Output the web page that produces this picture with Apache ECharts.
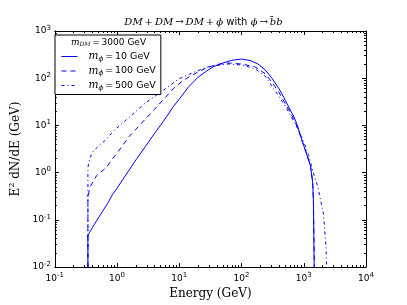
<!DOCTYPE html>
<html><head><meta charset="utf-8">
<script src="https://cdn.jsdelivr.net/npm/echarts@6/dist/echarts.min.js"></script>
<style>html,body{margin:0;padding:0;background:#fff}#c{width:407px;height:305px}</style>
</head><body><div id="c"></div>
<script>
// ---- data ----
const xMajorTicks = [0.1, 1, 10, 100, 1000, 10000];
const yMajorTicks = [0.01, 0.1, 1, 10, 100, 1000];

const e10 = [0.34,0.34,0.4,0.5,0.7,0.84,1,1.5,2,2.86,4,5.5,8,10,14,20,27,35,50,70,100,140,184,240,300,400,484,620,700,800,950,1100,1280,1390,1430,1470];
const v10 = [0.01,0.047,0.068,0.11,0.22,0.34,0.47,1.05,1.85,3.6,6.8,12,25,36,65,105,140,175,210,240,255,235,200,150,105,60,38,20,15,9.5,4.5,2.6,1.4,0.63,0.25,0.01];

const e100 = [0.34,0.34,0.367,0.47,0.67,0.85,1,1.56,2.86,4,5.5,8,11,14.6,20,27,40,60,100,163,240,300,400,484,620,800,950,1100,1280,1390,1430,1480];
const v100 = [0.01,0.3,0.5,0.87,1.28,2.0,2.6,5.8,13.7,22,35,60,85,108,135,165,195,210,200,175,125,86,50,32,18,9,4.5,2.6,1.4,0.63,0.25,0.01];

const e500 = [0.34,0.34,0.367,0.413,0.53,0.67,0.85,1.56,2.86,5.2,9.6,14.6,26.7,49,62,100,163,240,300,484,620,800,1000,1200,1420,1650,1840,2080,2280,2330];
const v500 = [0.01,1.3,2.07,2.83,3.9,5.0,7.3,14.9,30,52,95,122,170,195,200,190,160,110,72,28,16,8.5,4.5,2.3,1.0,0.55,0.29,0.13,0.027,0.01];

const seriesNames = ['m10', 'm100', 'm500'];
const legendMasses = ['10', '100', '500'];

// ---- helpers ----
function minorTicks(lo, hi) {
  const out = [];
  for (let k = lo; k < hi; k++) for (let m = 2; m <= 9; m++) out.push(m * Math.pow(10, k));
  return out;
}
function pairs(xs, ys) { return xs.map((x, i) => [x, ys[i]]); }
function expLabel(v) {
  const p = Math.round(Math.log10(v));
  return '{b|10}{s|' + p + '}';
}
const labelRich = {
  b: { fontFamily: 'DejaVu Sans', fontSize: 9, color: '#000' },
  s: { fontFamily: 'DejaVu Sans', fontSize: 7, color: '#000', padding: [0, 0, 6, 0] }
};
const xMinor = minorTicks(-1, 4);
const yMinor = minorTicks(-2, 3);

function xAx(pos, ticks, len, showLabel, showLine, extra) {
  return Object.assign({
    type: 'log', logBase: 10, min: 0.1, max: 10000, position: pos, gridIndex: 0,
    axisLine: { show: showLine, lineStyle: { color: '#000', width: 1 } },
    axisTick: { show: true, inside: true, length: len, customValues: ticks, lineStyle: { color: '#000', width: 1 } },
    axisLabel: showLabel ? { show: true, customValues: xMajorTicks, formatter: expLabel, rich: labelRich, margin: 5 } : { show: false },
    splitLine: { show: false }, minorTick: { show: false }
  }, extra || {});
}
function yAx(pos, ticks, len, showLabel, showLine, extra) {
  return Object.assign({
    type: 'log', logBase: 10, min: 0.01, max: 1000, position: pos, gridIndex: 0,
    axisLine: { show: showLine, lineStyle: { color: '#000', width: 1 } },
    axisTick: { show: true, inside: true, length: len, customValues: ticks, lineStyle: { color: '#000', width: 1 } },
    axisLabel: showLabel ? { show: true, customValues: yMajorTicks, formatter: expLabel, rich: labelRich, margin: 4 } : { show: false },
    splitLine: { show: false }, minorTick: { show: false }
  }, extra || {});
}

const blue = '#0000ff';
const chart = echarts.init(document.getElementById('c'), null, { renderer: 'canvas' });

const mathRich = {
  i: { fontFamily: 'DejaVu Serif', fontStyle: 'italic', fontSize: 10.5, color: '#000' },
  sub: { fontFamily: 'DejaVu Serif', fontStyle: 'italic', fontSize: 7, color: '#000', padding: [5, 0, 0, 0] },
  t: { fontFamily: 'DejaVu Sans', fontSize: 9.5, color: '#000' }
};
const thin = '\u2009';

chart.setOption({
  animation: false,
  backgroundColor: '#fff',
  title: {
    text: '{i|DM' + thin + '+' + thin + 'DM' + thin + '→' + thin + 'DM' + thin + '+' + thin + 'ϕ}{t| with }{i|ϕ' + thin + '→' + thin + '}{bar|' + thin + thin + '¯}{i|bb}',
    left: 'center', top: 16, padding: 0,
    textStyle: { fontWeight: 'normal', rich: {
      i: { fontFamily: 'DejaVu Serif', fontStyle: 'italic', fontWeight: 'normal', fontSize: 10, color: '#000' },
      t: { fontFamily: 'DejaVu Sans', fontWeight: 'normal', fontSize: 10, color: '#000' },
      bar: { fontFamily: 'DejaVu Sans', fontWeight: 'normal', fontSize: 10, color: '#000', width: 0.01, padding: [0, 0, 3, 0] }
    } }
  },
  grid: { left: 51, right: 41, top: 31, bottom: 31, containLabel: false },
  xAxis: [
    xAx('bottom', xMajorTicks, 4, true, true, {
      name: 'Energy (GeV)', nameLocation: 'middle', nameGap: 19,
      nameTextStyle: { fontFamily: 'DejaVu Serif', fontSize: 12, color: '#000' }
    }),
    xAx('bottom', xMinor, 2, false, false),
    xAx('top', xMajorTicks, 4, false, true),
    xAx('top', xMinor, 2, false, false)
  ],
  yAxis: [
    yAx('left', yMajorTicks, 4, true, true, {
      name: '{b|E}{s|2}{b| dN/dE (GeV)}', nameLocation: 'middle', nameGap: 31,
      nameTextStyle: { rich: {
        b: { fontFamily: 'DejaVu Serif', fontSize: 12, color: '#000' },
        s: { fontFamily: 'DejaVu Serif', fontSize: 8, color: '#000', padding: [0, 0, 7, 0] }
      } }
    }),
    yAx('left', yMinor, 2, false, false),
    yAx('right', yMajorTicks, 4, false, true),
    yAx('right', yMinor, 2, false, false)
  ],
  legend: {
    show: true, orient: 'vertical', left: 55, top: 35,
    backgroundColor: '#fff', borderColor: '#000', borderWidth: 1,
    padding: [16, 5, 3, 6], itemGap: 3, itemWidth: 16, itemHeight: 13,
    itemStyle: { color: 'rgba(0,0,0,0)', borderWidth: 0, opacity: 0 },
    lineStyle: { width: 1 },
    data: seriesNames,
    formatter: function (name) {
      const m = legendMasses[seriesNames.indexOf(name)];
      return '{i|m}{sub|ϕ}{t|' + thin + '=' + thin + m + ' GeV}';
    },
    textStyle: { rich: mathRich, padding: [0, 0, 0, 6] },
    z: 10
  },
  graphic: [{
    type: 'text', left: 71, top: 38, z: 100,
    style: {
      text: '{i|m}{sub|DM}{t|' + thin + '=' + thin + '3000 GeV}',
      rich: {
        i: { fontFamily: 'DejaVu Serif', fontStyle: 'italic', fontSize: 9, fill: '#000' },
        sub: { fontFamily: 'DejaVu Serif', fontStyle: 'italic', fontSize: 6, fill: '#000', padding: [4, 0, 0, 0] },
        t: { fontFamily: 'DejaVu Sans', fontSize: 9, fill: '#000' }
      }
    }
  }],
  series: [
    { name: 'm10', type: 'line', data: pairs(e10, v10), showSymbol: false, symbol: 'none', smooth: false,
      lineStyle: { color: blue, width: 1, type: 'solid' }, itemStyle: { color: blue }, clip: true },
    { name: 'm100', type: 'line', data: pairs(e100, v100), showSymbol: false, symbol: 'none',
      lineStyle: { color: blue, width: 1, type: [5, 4] }, itemStyle: { color: blue }, clip: true },
    { name: 'm500', type: 'line', data: pairs(e500, v500), showSymbol: false, symbol: 'none',
      lineStyle: { color: blue, width: 1, type: [3, 3, 1, 3] }, itemStyle: { color: blue }, clip: true }
  ]
});
</script></body></html>
